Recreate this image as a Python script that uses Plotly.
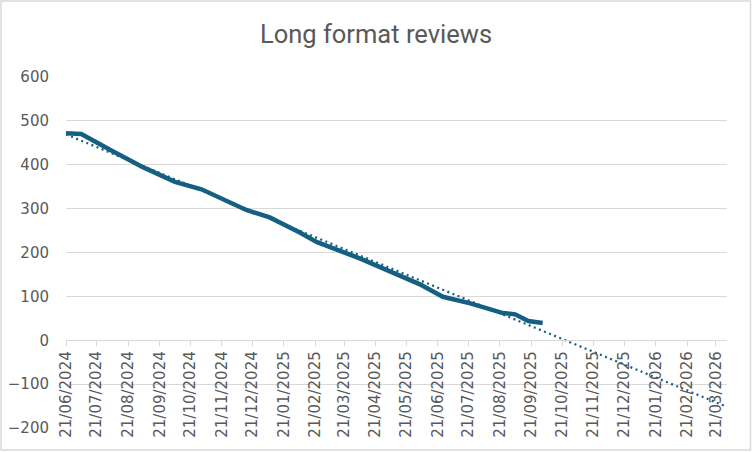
import numpy as np
import pandas as pd
import plotly.graph_objects as go

# ---- data ----
dates = ["2024-06-21", "2024-07-06", "2024-08-05", "2024-09-05", "2024-10-06",
         "2024-11-01", "2024-12-15", "2025-01-07", "2025-02-06", "2025-02-22",
         "2025-04-06", "2025-05-05", "2025-06-03", "2025-06-26", "2025-07-23",
         "2025-08-24", "2025-09-05", "2025-09-18", "2025-10-02"]
reviews = [472, 470, 432, 394, 361,
           344, 297, 280, 245, 224,
           186, 156, 128, 99, 84,
           62, 59, 44, 39.5]
forecast_end = "2026-04-01"
title_text = "Long format reviews"
y_ticks = [-200, -100, 0, 100, 200, 300, 400, 500, 600]

# ---- linear trendline (Excel-style, forward forecast) ----
d = pd.to_datetime(dates)
t0 = d[0]
days = np.array([(x - t0).days for x in d], dtype=float)
slope, intercept = np.polyfit(days, np.array(reviews, dtype=float), 1)
end_days = (pd.Timestamp(forecast_end) - t0).days
trend_x = [t0, pd.Timestamp(forecast_end)]
trend_y = [intercept, intercept + slope * end_days]

BLUE = "#156082"
GRID = "#d9d9d9"
TXT = "#595959"
TICKFONT = dict(family="DejaVu Sans", size=15, color=TXT)

fig = go.Figure()
fig.add_trace(go.Scatter(
    x=trend_x, y=trend_y, mode="lines",
    line=dict(color=BLUE, width=2.25, dash="2px,3.5px"),
    showlegend=False, hoverinfo="skip"))
fig.add_trace(go.Scatter(
    x=d, y=reviews, mode="lines",
    line=dict(color=BLUE, width=4.5),
    showlegend=False))

W, H = 752, 452
L, R, T, B = 66, 25, 77, 24
pw, ph = W - L - R, H - T - B

fig.update_layout(
    width=W, height=H,
    margin=dict(l=L, r=R, t=T, b=B, autoexpand=False),
    paper_bgcolor="white", plot_bgcolor="white",
    title=dict(text=title_text, x=0.5, xref="container", xanchor="center",
               y=1 - 34 / H, yref="container", yanchor="middle",
               font=dict(family="Roboto", size=25.5, color=TXT)),
    font=TICKFONT,
    xaxis=dict(type="date", range=[t0, forecast_end],
               tick0="2024-06-21", dtick="M1", tickformat="%d/%m/%Y",
               tickangle=-90, anchor="free", position=0.25,
               showline=True, linecolor=GRID, linewidth=1,
               ticks="outside", ticklen=5, tickcolor=GRID, tickwidth=1,
               ticklabelstandoff=-1,
               showgrid=False, zeroline=False, automargin=False,
               tickfont=TICKFONT),
    yaxis=dict(range=[-200, 600], tickvals=y_ticks,
               showgrid=True, gridcolor=GRID, gridwidth=1,
               zeroline=False, showline=False, ticks="",
               ticklabelstandoff=16, automargin=False,
               tickfont=TICKFONT),
    shapes=[dict(type="rect", xref="paper", yref="paper",
                 x0=(1 - L) / pw, x1=(W - 1.5 - L) / pw,
                 y0=-(H - 2 - (T + ph)) / ph, y1=(T + ph - 1) / ph,
                 line=dict(color=GRID, width=1.5), fillcolor="rgba(0,0,0,0)",
                 layer="below")],
)

fig.write_html("out.html", config={"displayModeBar": False},
               post_script="document.body.style.margin='0';")
